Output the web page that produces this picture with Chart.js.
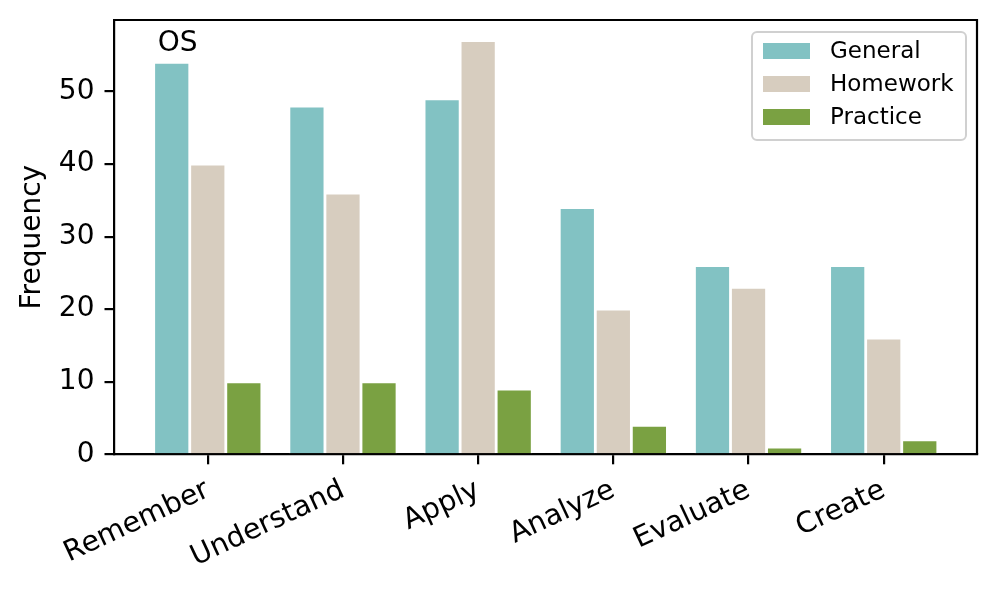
<!DOCTYPE html>
<html>
<head>
<meta charset="utf-8">
<script src="https://cdn.jsdelivr.net/npm/chart.js@4.4.1/dist/chart.umd.min.js"></script>
<style>
  html, body { margin: 0; padding: 0; background: #fff; }
  #wrap { width: 998px; height: 590px; }
</style>
</head>
<body>
<div id="wrap"><canvas id="chart" width="998" height="590"></canvas></div>
<script>
// --- data ---
const categories = ['Remember', 'Understand', 'Apply', 'Analyze', 'Evaluate', 'Create'];
const general = [54, 48, 49, 34, 26, 26];
const homework = [40, 36, 57, 20, 23, 16];
const practice = [10, 10, 9, 4, 1, 2];
const yTicks = [0, 10, 20, 30, 40, 50];
const seriesNames = ['General', 'Homework', 'Practice'];
const seriesColors = ['#82c2c3', '#d7cdbf', '#7aa142'];

const FONT = '"DejaVu Sans", sans-serif';
const LINE = 2.2;

const toPoints = (values) => values.map((v, i) => ({ x: i, y: v }));

// top + right spines, like matplotlib's full frame
const framePlugin = {
    id: 'frame',
    afterDraw(chart) {
        const { ctx, chartArea: a } = chart;
        ctx.save();
        ctx.strokeStyle = '#000';
        ctx.lineWidth = LINE;
        ctx.beginPath();
        ctx.moveTo(a.left, a.top);
        ctx.lineTo(a.right, a.top);
        ctx.lineTo(a.right, a.bottom);
        ctx.stroke();
        ctx.restore();
    }
};

// "OS" label in the upper left, placed in axes fractions
const cornerTextPlugin = {
    id: 'cornerText',
    afterDraw(chart) {
        const { ctx, chartArea: a } = chart;
        ctx.save();
        ctx.fillStyle = '#000';
        ctx.font = `28px ${FONT}`;
        ctx.textAlign = 'left';
        ctx.textBaseline = 'alphabetic';
        ctx.fillText('OS', a.left + 0.05 * (a.right - a.left), a.top + 31);
        ctx.restore();
    }
};

// legend drawn inside the plot, upper right
const innerLegendPlugin = {
    id: 'innerLegend',
    afterDraw(chart) {
        const { ctx, chartArea: a } = chart;
        const bw = 214, bh = 108;
        const bx = a.right - 11 - bw, by = a.top + 12;
        ctx.save();
        ctx.fillStyle = 'rgba(255,255,255,0.8)';
        ctx.strokeStyle = '#d0d0d0';
        ctx.lineWidth = 2;
        ctx.beginPath();
        ctx.roundRect(bx, by, bw, bh, 5);
        ctx.fill();
        ctx.stroke();
        ctx.font = `23px ${FONT}`;
        ctx.textBaseline = 'middle';
        ctx.textAlign = 'left';
        chart.data.datasets.forEach((ds, i) => {
            const cy = by + 19 + i * 33;
            ctx.fillStyle = ds.backgroundColor;
            ctx.fillRect(bx + 11, cy - 8, 47, 16);
            ctx.fillStyle = '#000';
            ctx.fillText(ds.label, bx + 78, cy + 1);
        });
        ctx.restore();
    }
};

new Chart(document.getElementById('chart').getContext('2d'), {
    type: 'bar',
    data: {
        datasets: [general, homework, practice].map((vals, i) => ({
            label: seriesNames[i],
            data: toPoints(vals),
            backgroundColor: seriesColors[i],
            borderColor: '#ffffff',
            borderWidth: 1.4,
            borderSkipped: 'start',
            categoryPercentage: 0.8,
            barPercentage: 1.0
        }))
    },
    options: {
        responsive: false,
        animation: false,
        devicePixelRatio: 1,
        layout: { padding: { top: 20, right: 21, left: 0, bottom: 0 } },
        plugins: {
            legend: { display: false },
            tooltip: { enabled: false }
        },
        scales: {
            x: {
                type: 'linear',
                min: -0.69,
                max: 5.69,
                offset: false,
                afterBuildTicks: (scale) => { scale.ticks = categories.map((c, i) => ({ value: i })); },
                afterFit: (scale) => {
                    scale.height = 135.7;
                    scale.paddingLeft = 0;
                    scale.paddingRight = 0;
                },
                ticks: {
                    autoSkip: false,
                    minRotation: 25,
                    maxRotation: 25,
                    padding: 9,
                    color: '#000',
                    font: { family: FONT, size: 28.5 },
                    callback: (value) => categories[value]
                },
                grid: {
                    offset: false,
                    drawOnChartArea: false,
                    tickLength: 10,
                    color: '#000',
                    lineWidth: LINE
                },
                border: { display: true, color: '#000', width: LINE }
            },
            y: {
                min: 0,
                max: 59.85,
                afterBuildTicks: (scale) => { scale.ticks = yTicks.map(v => ({ value: v })); },
                afterFit: (scale) => {
                    scale.width = 114.5;
                    scale.paddingTop = 0;
                    scale.paddingBottom = 0;
                },
                ticks: {
                    padding: 10,
                    color: '#000',
                    font: { family: FONT, size: 28 }
                },
                grid: {
                    drawOnChartArea: false,
                    tickLength: 10,
                    color: '#000',
                    lineWidth: LINE
                },
                border: { display: true, color: '#000', width: LINE },
                title: {
                    display: true,
                    text: 'Frequency',
                    color: '#000',
                    font: { family: FONT, size: 28 },
                    padding: { top: 16, bottom: 0 }
                }
            }
        }
    },
    plugins: [framePlugin, cornerTextPlugin, innerLegendPlugin]
});
</script>
</body>
</html>
